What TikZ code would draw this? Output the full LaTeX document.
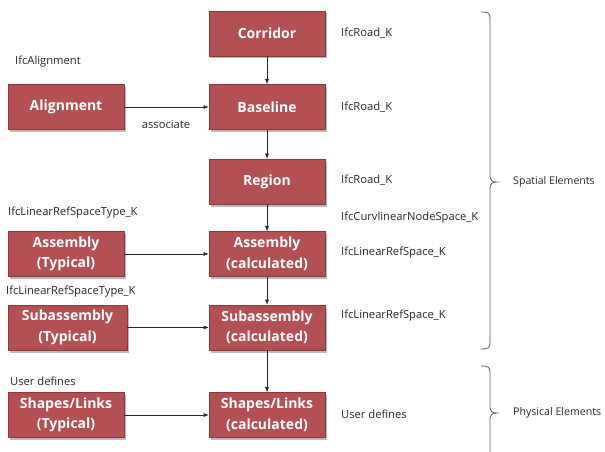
\documentclass[tikz,border=0pt]{standalone}
\usepackage{fontspec}
\setmainfont{Open Sans}
\usetikzlibrary{shadows,arrows.meta}
\definecolor{boxred}{RGB}{178,80,84}
\definecolor{boxedge}{RGB}{140,55,60}
\definecolor{bracegray}{RGB}{90,90,90}
\begin{document}
\begin{tikzpicture}[x=1pt,y=-1pt,
  box/.style={draw=boxedge,line width=0.6pt,fill=boxred,text=white,font=\fontsize{14}{20.5}\selectfont\bfseries,
    minimum width=116pt,minimum height=45pt,inner sep=0pt,align=center,
    drop shadow={shadow xshift=2pt,shadow yshift=-2.5pt,fill=black!45,opacity=0.6}},
  lbl/.style={font=\fontsize{11.2}{13}\selectfont,text=black!85,anchor=west,inner sep=0pt},
  conn/.style={-{Latex[length=5pt,width=4pt]},line width=0.6pt,black!85},
  brace/.style={bracegray,line width=0.8pt}]
\useasboundingbox (0,0) rectangle (605,452);
% right column
\node[box] (corr) at (267,33.5) {Corridor};
\node[box] (base) at (267,107) {Baseline};
\node[box] (reg) at (267,181.5) {Region};
\node[box] (asmc) at (267,254) {Assembly\\(calculated)};
\node[box] (subc) at (267,327.5) {Subassembly\\(calculated)};
\node[box] (shpc) at (267,415) {Shapes/Links\\(calculated)};
% left column
\node[box] (align) at (66,107) {Alignment};
\node[box] (asmt) at (66,254) {Assembly\\(Typical)};
\node[box,minimum width=119pt] (subt) at (67.5,327.5) {Subassembly\\(Typical)};
\node[box] (shpt) at (66,415) {Shapes/Links\\(Typical)};
% connectors
\draw[conn] (corr) -- (base);
\draw[conn] (base) -- (reg);
\draw[conn] (reg) -- (asmc);
\draw[conn] (asmc) -- (subc);
\draw[conn] (subc) -- (shpc);
\draw[conn] (align) -- (base);
\draw[conn] (asmt) -- (asmc);
\draw[conn] (subt) -- (subc);
\draw[conn] (shpt) -- (shpc);
% left labels
\node[lbl] (lalign) at (15,62) {IfcAlignment};
\node[lbl,anchor=center] (lassoc) at (166,124) {associate};
\node[lbl] (lasm) at (8,213) {IfcLinearRefSpaceType\_K};
\node[lbl] (lsub) at (6,292) {IfcLinearRefSpaceType\_K};
\node[lbl] (lshp) at (10,381) {User defines};
% right labels
\node[lbl] (r1) at (341,33) {IfcRoad\_K};
\node[lbl] (r2) at (341,107) {IfcRoad\_K};
\node[lbl] (r3) at (341,180) {IfcRoad\_K};
\node[lbl] (r4) at (341,218) {IfcCurvlinearNodeSpace\_K};
\node[lbl] (r5) at (341,253) {IfcLinearRefSpace\_K};
\node[lbl] (r6) at (341,316) {IfcLinearRefSpace\_K};
\node[lbl] (r7) at (341,414) {User defines};
% braces
\draw[brace] (481,12) .. controls (488,12) and (490,13) .. (490,18) -- (490,177)
  .. controls (490,180) and (492,182) .. (497,182)
  .. controls (492,182) and (490,184) .. (490,187) -- (490,343)
  .. controls (490,348) and (488,349) .. (481,349);
\draw[brace] (481,366) .. controls (488,366) and (490,367) .. (490,372) -- (490,408)
  .. controls (490,411) and (492,413) .. (497,413)
  .. controls (492,413) and (490,415) .. (490,418) -- (490,452);
\node[lbl,font=\fontsize{10.6}{13}\selectfont] (spat) at (513,182) {Spatial Elements};
\node[lbl,font=\fontsize{10.6}{13}\selectfont] (phys) at (513,413) {Physical Elements};
\end{tikzpicture}
\end{document}
